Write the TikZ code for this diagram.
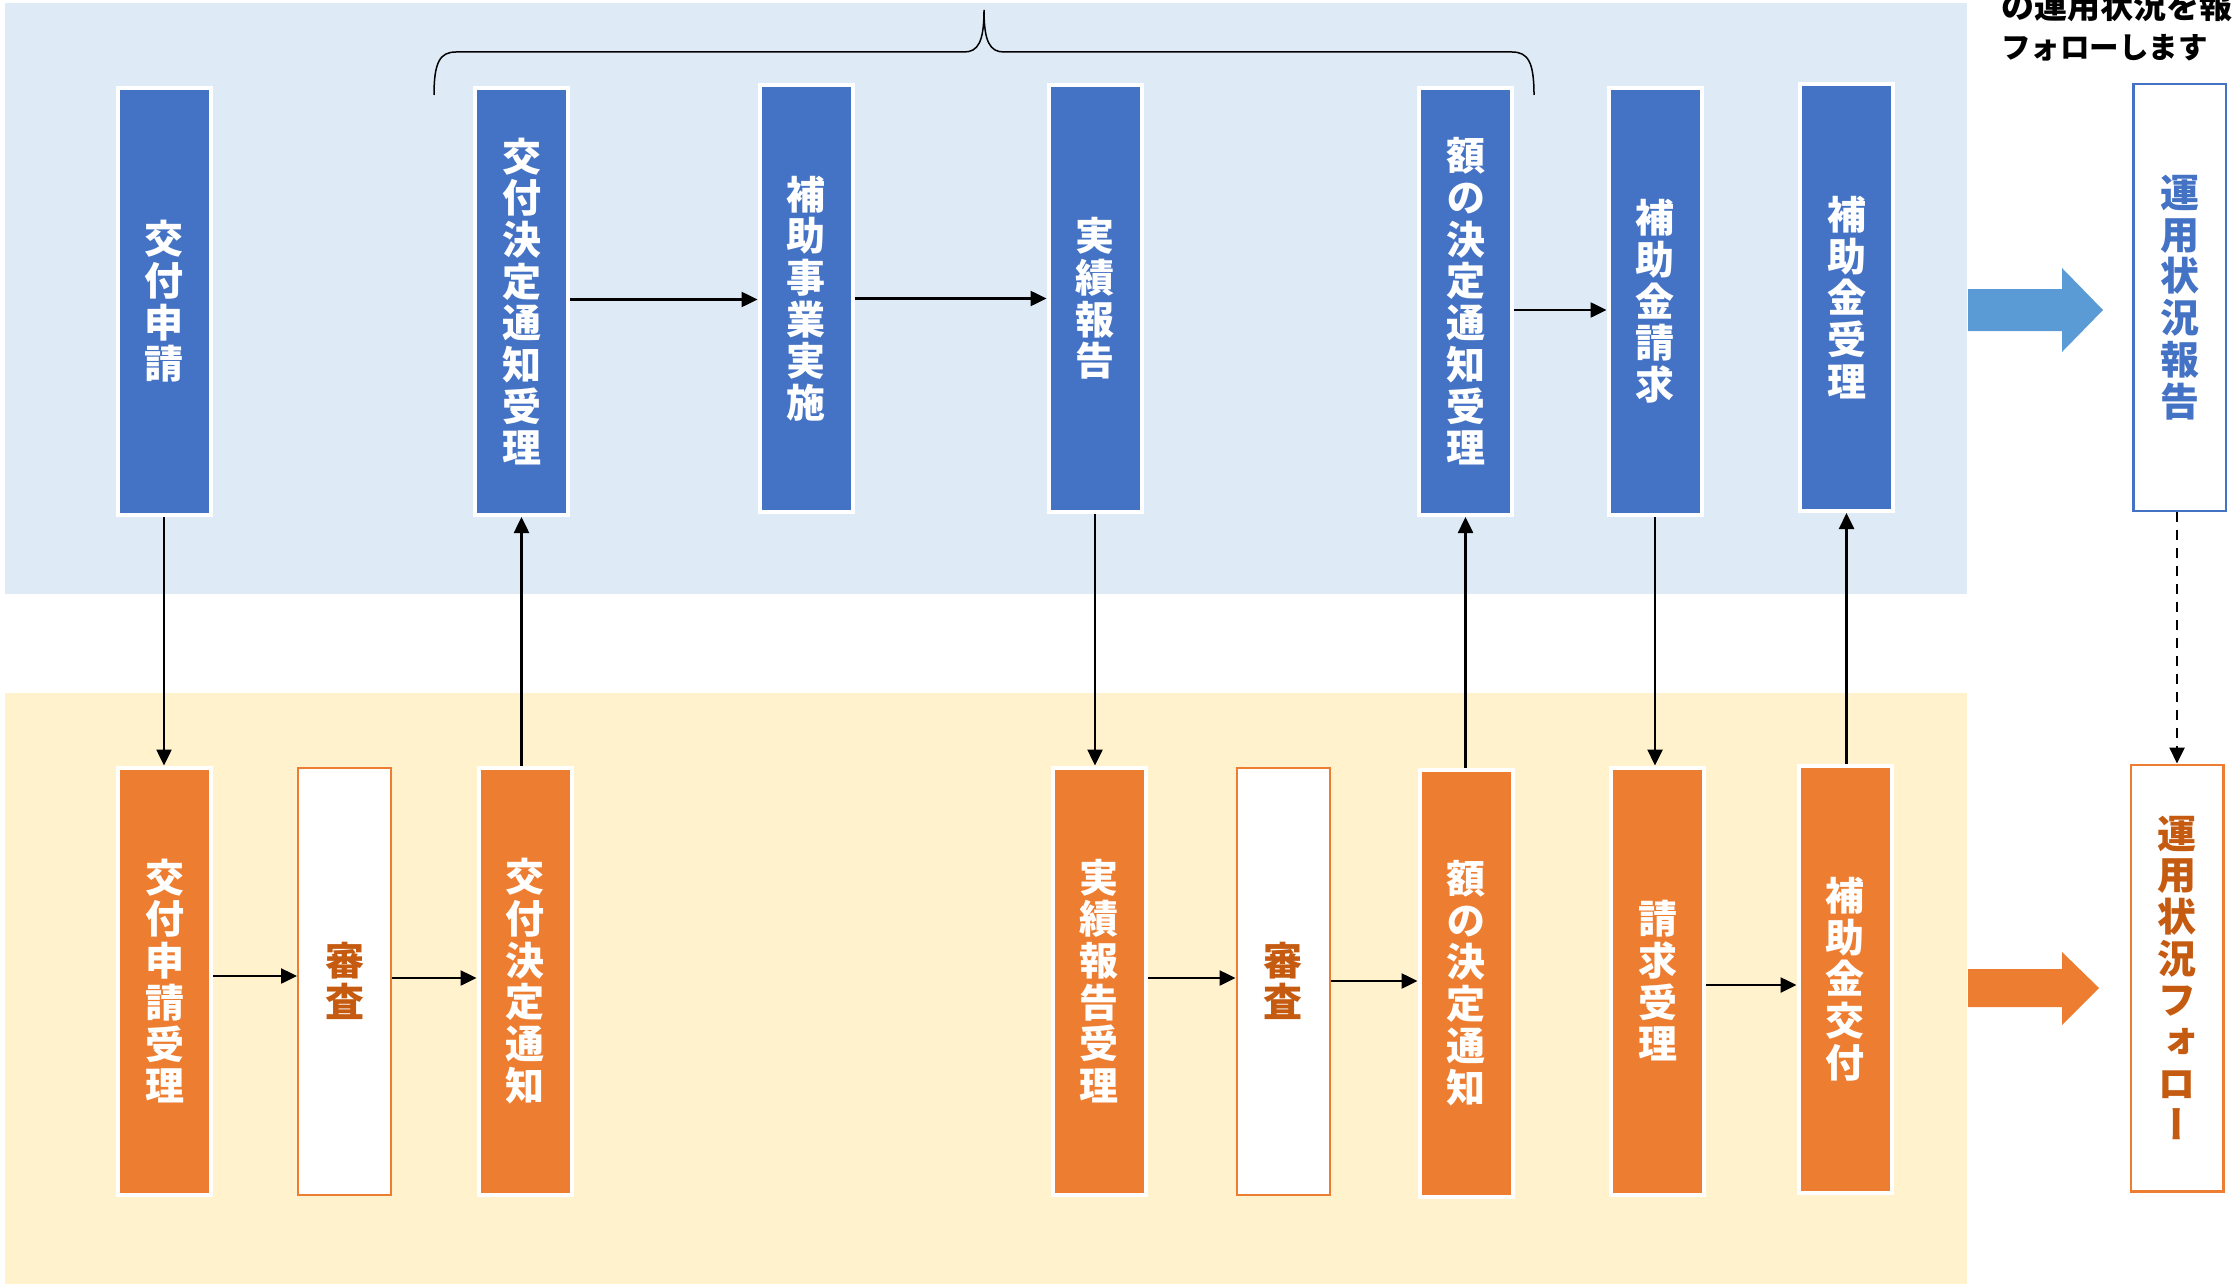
\documentclass[tikz,border=0pt]{standalone}
\usepackage{fontspec}
\newfontfamily\jpv{Noto Sans CJK JP}[RawFeature=+vert]
\newfontfamily\jph{Noto Sans CJK JP}
\usetikzlibrary{arrows.meta,calc}
\definecolor{bluebox}{HTML}{4472C4}
\definecolor{orgbox}{HTML}{ED7D31}
\definecolor{orgtext}{HTML}{C55A11}
\definecolor{toppanel}{HTML}{DEEAF6}
\definecolor{botpanel}{HTML}{FFF2CC}
\definecolor{bigblue}{HTML}{5B9BD5}
\begin{document}
\begin{tikzpicture}[x=1pt,y=-1pt,
  vbase/.style={minimum width=93pt, minimum height=427pt, inner sep=0pt, align=center,
    font=\jpv\bfseries\fontsize{39}{41.7}\selectfont},
  blubox/.style={vbase, fill=bluebox, draw=white, line width=4pt, text=white},
  orgbx/.style={vbase, fill=orgbox, draw=white, line width=4pt, text=white},
  reviewbox/.style={vbase, fill=white, draw=orgbox, line width=2pt, text=orgtext},
  repbox/.style={vbase, minimum width=92.5pt, minimum height=426.5pt, fill=white, draw=bluebox, line width=2.5pt, text=bluebox},
  follbox/.style={vbase, minimum width=92.5pt, minimum height=426.5pt, fill=white, draw=orgbox, line width=2.5pt, text=orgtext},
  conn/.style={-{Triangle[length=16pt,width=15pt]}, line width=2.5pt, black},
  headtext/.style={anchor=west, inner sep=0pt, font=\jph\bfseries\fontsize{29.5}{30}\selectfont, text=black}
]
\useasboundingbox (0,0) rectangle (2233,1284);
% panels
\fill[toppanel] (5,3) rectangle (1967,594);
\fill[botpanel] (5,693) rectangle (1967,1284);

% brace
\draw[line width=1.5pt] (434,95) .. controls (434,62) and (440,52) .. (456,52) -- (964,52)
  .. controls (978,52) and (984,42) .. (984,10)
  .. controls (984,42) and (990,52) .. (1004,52) -- (1512,52)
  .. controls (1528,52) and (1534,62) .. (1534,95);

% top row
\node[blubox] (t1) at (164,301.5) {交\\付\\申\\請};
\node[blubox] (t2) at (521.5,301.5) {交\\付\\決\\定\\通\\知\\受\\理};
\node[blubox] (t3) at (806,298.5) {補\\助\\事\\業\\実\\施};
\node[blubox] (t4) at (1095,298.5) {実\\績\\報\\告};
\node[blubox] (t5) at (1465.5,301.5) {額\\の\\決\\定\\通\\知\\受\\理};
\node[blubox] (t6) at (1655,301.5) {補\\助\\金\\請\\求};
\node[blubox] (t7) at (1846.5,297.5) {補\\助\\金\\受\\理};

% bottom row
\node[orgbx] (b1) at (164.5,981) {交\\付\\申\\請\\受\\理};
\node[reviewbox] (b2) at (344.5,981) {審\\査};
\node[orgbx] (b3) at (525,981) {交\\付\\決\\定\\通\\知};
\node[orgbx] (b4) at (1099,981) {実\\績\\報\\告\\受\\理};
\node[reviewbox] (b5) at (1283,981) {審\\査};
\node[orgbx] (b6) at (1466,983) {額\\の\\決\\定\\通\\知};
\node[orgbx] (b7) at (1657.5,981) {請\\求\\受\\理};
\node[orgbx] (b8) at (1845,979) {補\\助\\金\\交\\付};

% right column
\node[repbox] (r1) at (2179.5,297.5) {運\\用\\状\\況\\報\\告};
\node[follbox] (r2) at (2177,978) {運\\用\\状\\況\\フ\\ォ\\ロ\\ー};

% heading text (cut by the frame, as in the reference)
\node[headtext, font=\jph\bfseries\fontsize{33}{34}\selectfont] (h1) at (2001,6) {の運用状況を報};
\node[headtext] (h2) at (2001,48) {フォローします};

% big arrows
\fill[bigblue] (1968,289) -- (2062,289) -- (2062,268) -- (2103,310) -- (2062,352) -- (2062,331) -- (1968,331) -- cycle;
\fill[orgbox] (1968,969) -- (2062,969) -- (2062,952) -- (2099,988) -- (2062,1025) -- (2062,1007) -- (1968,1007) -- cycle;

% connectors
\draw[conn] (t1.south) -- (t1.south |- b1.north);
\draw[conn] (t2.south |- b3.north) -- (t2.south);
\draw[conn] ([yshift=2pt]t2.east) -- ([yshift=2pt]t2.east -| t3.west);
\draw[conn] (t3.east) -- (t4.west);
\draw[conn] (t4.south) -- (t4.south |- b4.north);
\draw[conn] ([yshift=-8.5pt]t5.east) -- ([yshift=-8.5pt]t5.east -| t6.west);
\draw[conn] (t5.south |- b6.north) -- (t5.south);
\draw[conn] (t6.south) -- (t6.south |- b7.north);
\draw[conn] (t7.south |- b8.north) -- (t7.south);
\draw[conn] ([yshift=5pt]b1.east) -- ([yshift=5pt]b1.east -| b2.west);
\draw[conn] ([yshift=3pt]b2.east) -- ([yshift=3pt]b2.east -| b3.west);
\draw[conn] ([yshift=3pt]b4.east) -- ([yshift=3pt]b4.east -| b5.west);
\draw[conn] (b5.east) -- (b5.east -| b6.west);
\draw[conn] ([yshift=-4pt]b7.east) -- ([yshift=-4pt]b7.east -| b8.west);
\draw[conn, dash pattern=on 10pt off 8pt] (r2.north |- r1.south) -- (r2.north);
\end{tikzpicture}
\end{document}
